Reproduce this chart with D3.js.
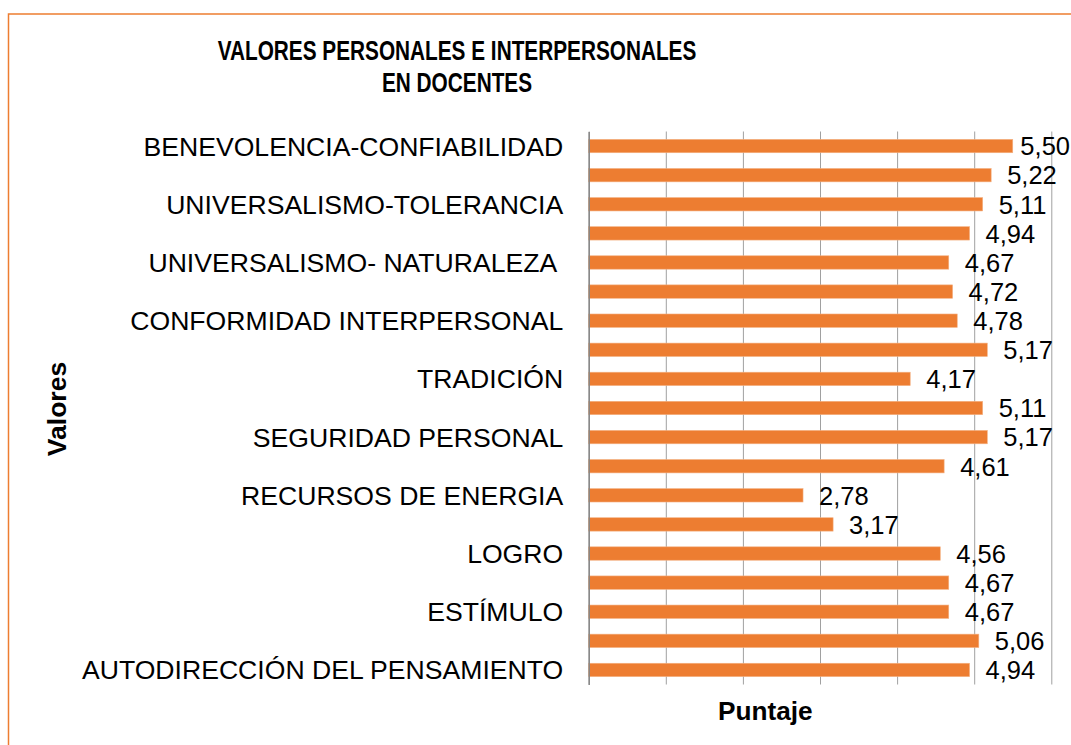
<!DOCTYPE html>
<html>
<head>
<meta charset="utf-8">
<script src="https://cdn.jsdelivr.net/npm/d3@7"></script>
<style>
  body { margin: 0; background: #fff; }
  text { font-family: "Liberation Sans", Arial, sans-serif; fill: #000; }
</style>
</head>
<body>
<script>
// data, top to bottom as in the chart
var categories = [
  "BENEVOLENCIA-CONFIABILIDAD",
  "BENEVOLENCIA-CUIDADO",
  "UNIVERSALISMO-TOLERANCIA",
  "UNIVERSALISMO-COMPROMISO",
  "UNIVERSALISMO- NATURALEZA ",
  "HUMILDAD",
  "CONFORMIDAD INTERPERSONAL",
  "CONFORMIDAD-REGLAS",
  "TRADICIÓN",
  "SEGURIDAD SOCIAL",
  "SEGURIDAD PERSONAL",
  "IMAGEN PÚBLICA",
  "RECURSOS DE ENERGIA",
  "PODER-DOMINANCIA",
  "LOGRO",
  "HEDONISMO",
  "ESTÍMULO",
  "AUTODIRECCIÓN DE LA ACCIÓN",
  "AUTODIRECCIÓN DEL PENSAMIENTO"
];
var puntajes = [5.50, 5.22, 5.11, 4.94, 4.67, 4.72, 4.78, 5.17, 4.17, 5.11,
                5.17, 4.61, 2.78, 3.17, 4.56, 4.67, 4.67, 5.06, 4.94];
var xTicks = [0, 1, 2, 3, 4, 5, 6];
var titleLines = ["VALORES PERSONALES E INTERPERSONALES", "EN DOCENTES"];

var W = 1071, H = 745;
var plot = {left: 588.7, right: 1051.3, top: 131.5, bottom: 684.5};

var svg = d3.select("body").append("svg")
  .attr("width", W)
  .attr("height", H);

// chart frame
svg.append("rect")
  .attr("x", 8.5).attr("y", 14)
  .attr("width", W + 20).attr("height", H + 20)
  .attr("fill", "none")
  .attr("stroke", "#ED7D31")
  .attr("stroke-width", 1.5);

var x = d3.scaleLinear()
  .domain([0, 6])
  .range([plot.left, plot.right]);

var y = d3.scaleBand()
  .domain(categories)
  .range([plot.top, plot.bottom])
  .paddingInner(0.54)
  .paddingOuter(0.27);

// vertical gridlines
var gx = svg.append("g")
  .attr("transform", "translate(0," + plot.bottom + ")")
  .call(d3.axisBottom(x).tickValues(xTicks)
    .tickSize(-(plot.bottom - plot.top)).tickFormat(""));
gx.select(".domain").remove();
gx.selectAll(".tick line").attr("stroke", "#a0a0a0").attr("stroke-width", 1);

// bars
svg.append("g")
  .selectAll("rect")
  .data(puntajes)
  .enter()
  .append("rect")
  .attr("x", x(0))
  .attr("y", (d, i) => y(categories[i]))
  .attr("width", (d) => x(d) - x(0))
  .attr("height", y.bandwidth())
  .attr("fill", "#ED7D31")
  .attr("stroke", "#F4B183")
  .attr("stroke-width", 0.6);

// category axis, every other label shown
var gy = svg.append("g")
  .attr("transform", "translate(" + plot.left + ",0)")
  .call(d3.axisLeft(y).tickSize(0).tickSizeOuter(0).tickPadding(25.5)
    .tickFormat((d, i) => i % 2 === 0 ? d : ""));
gy.select(".domain").attr("stroke", "#868686").attr("stroke-width", 1.5);
gy.selectAll(".tick text")
  .attr("font-size", 26.6)
  .attr("dy", null)
  .attr("y", 9.5)
  .style("white-space", "pre")
  .style("font-family", '"Liberation Sans", Arial, sans-serif')
  .attr("fill", "#000");

// data labels
var fmt = (v) => v.toFixed(2).replace(".", ",");
svg.append("g")
  .selectAll("text")
  .data(puntajes)
  .enter()
  .append("text")
  .attr("font-size", 25.5)
  .attr("y", (d, i) => y(categories[i]) + y.bandwidth() / 2 + 9.3)
  .text(fmt)
  .attr("x", function(d) {
    var w = this.getComputedTextLength();
    return Math.min(x(d) + 16, W - 1 - w);
  });

// title
svg.append("g")
  .selectAll("text")
  .data(titleLines)
  .enter()
  .append("text")
  .attr("transform", (d, i) => "translate(457," + (59.5 + i * 32.4) + ") scale(0.77,1)")
  .attr("text-anchor", "middle")
  .attr("font-size", 27)
  .attr("font-weight", "bold")
  .text((d) => d);

// axis titles
svg.append("text")
  .attr("transform", "translate(65.5,409) rotate(-90)")
  .attr("text-anchor", "middle")
  .attr("font-size", 26.5)
  .attr("font-weight", "bold")
  .text("Valores");

svg.append("text")
  .attr("x", 765.3)
  .attr("y", 719.5)
  .attr("text-anchor", "middle")
  .attr("font-size", 26.2)
  .attr("font-weight", "bold")
  .text("Puntaje");
</script>
</body>
</html>
